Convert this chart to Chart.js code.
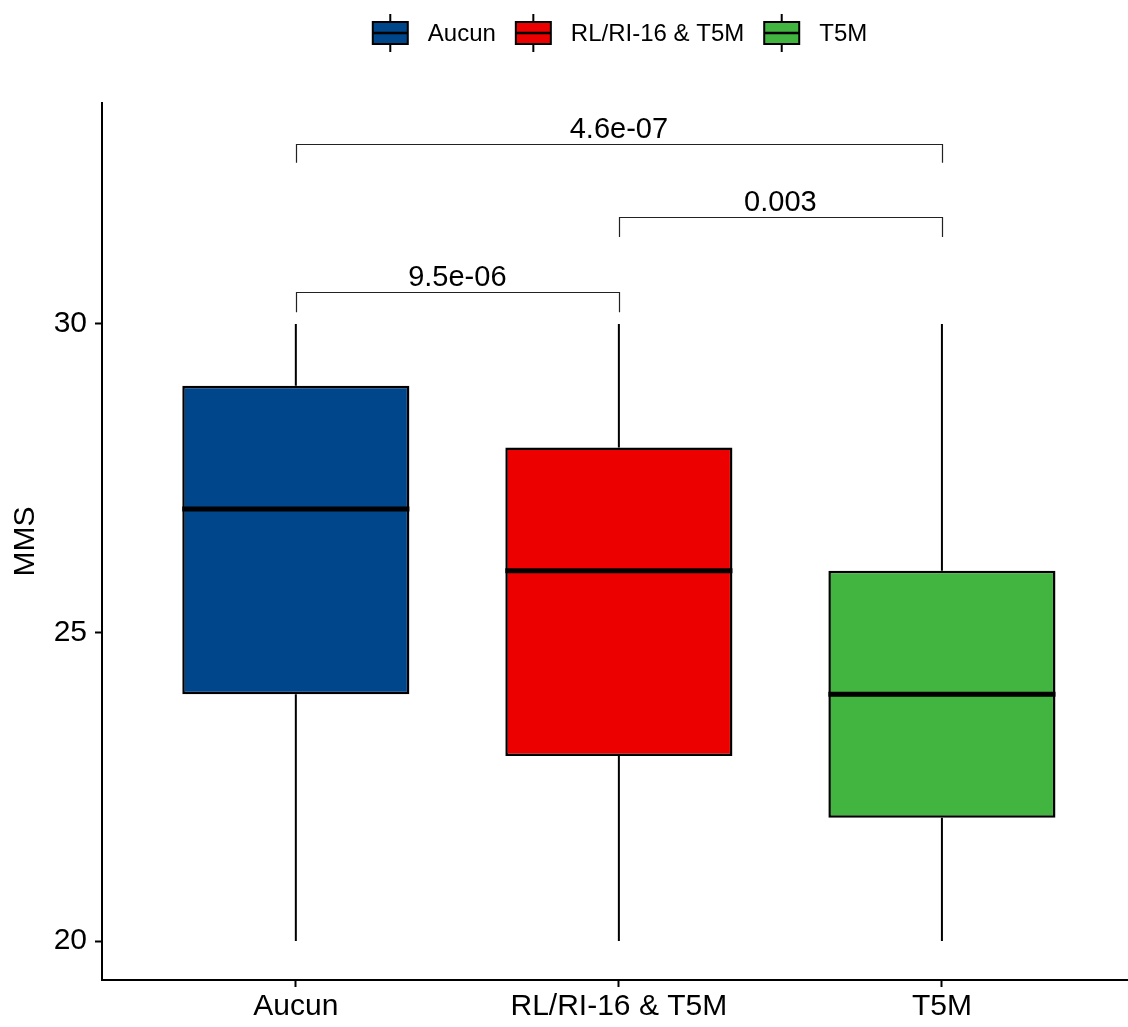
<!DOCTYPE html>
<html>
<head>
<meta charset="utf-8">
<script src="https://cdn.jsdelivr.net/npm/chart.js@4/dist/chart.umd.min.js"></script>
<style>
  html, body { margin: 0; padding: 0; background: #fff; }
  canvas { display: block; }
</style>
</head>
<body>
<canvas id="c" width="1128" height="1027"></canvas>
<script>
// ---- data ----
const categories = ['Aucun', 'RL/RI-16 & T5M', 'T5M'];
const whiskerLow = [20, 20, 20];
const q1 = [24, 23, 22];
const median = [27, 26, 24];
const q3 = [29, 28, 26];
const whiskerHigh = [30, 30, 30];
const fillColors = ['#00468B', '#ED0000', '#42B540'];
const yTicks = [20, 25, 30];
const compareFrom = [0, 1, 0];
const compareTo = [1, 2, 2];
const pLabels = ['9.5e-06', '0.003', '4.6e-07'];
const bracketLevel = [30.52, 31.73, 32.92];
const bracketDrop = [30.19, 31.41, 32.61];

const FONT = '"Liberation Sans", Arial, Helvetica, sans-serif';

const datasets = categories.map((cat, i) => ({
  label: cat,
  data: [{ x: i, y: [q1[i], q3[i]] }],
  backgroundColor: fillColors[i],
  borderColor: '#000',
  borderWidth: 2.5,
  borderSkipped: false,
  grouped: false,
  barPercentage: 0.703,
  categoryPercentage: 1.0
}));

const boxExtras = {
  id: 'boxExtras',
  beforeDatasetsDraw(chart) {
    const ctx = chart.ctx;
    const x = chart.scales.x, y = chart.scales.y;
    ctx.save();
    ctx.strokeStyle = '#000';
    ctx.lineWidth = 2;
    categories.forEach((_, i) => {
      const cx = x.getPixelForValue(i);
      ctx.beginPath();
      ctx.moveTo(cx, y.getPixelForValue(whiskerHigh[i]));
      ctx.lineTo(cx, y.getPixelForValue(q3[i]));
      ctx.moveTo(cx, y.getPixelForValue(q1[i]));
      ctx.lineTo(cx, y.getPixelForValue(whiskerLow[i]));
      ctx.stroke();
    });
    ctx.restore();
  },
  afterDatasetsDraw(chart) {
    const ctx = chart.ctx;
    const y = chart.scales.y;
    ctx.save();
    ctx.strokeStyle = '#000';
    ctx.lineWidth = 5;
    categories.forEach((_, i) => {
      const el = chart.getDatasetMeta(i).data[0];
      const my = y.getPixelForValue(median[i]);
      ctx.beginPath();
      ctx.moveTo(el.x - el.width / 2, my);
      ctx.lineTo(el.x + el.width / 2, my);
      ctx.stroke();
    });
    ctx.restore();
  },
  afterDraw(chart) {
    const ctx = chart.ctx;
    const x = chart.scales.x, y = chart.scales.y;
    ctx.save();
    // significance brackets
    ctx.strokeStyle = '#222';
    ctx.lineWidth = 1.2;
    ctx.fillStyle = '#000';
    ctx.font = '29px ' + FONT;
    ctx.textAlign = 'center';
    ctx.textBaseline = 'alphabetic';
    pLabels.forEach((lab, k) => {
      const x1 = x.getPixelForValue(compareFrom[k]);
      const x2 = x.getPixelForValue(compareTo[k]);
      const yl = Math.round(y.getPixelForValue(bracketLevel[k])) + 0.5;
      const yd = y.getPixelForValue(bracketDrop[k]);
      ctx.beginPath();
      ctx.moveTo(Math.round(x1) + 0.5, yd);
      ctx.lineTo(Math.round(x1) + 0.5, yl);
      ctx.lineTo(Math.round(x2) + 0.5, yl);
      ctx.lineTo(Math.round(x2) + 0.5, yd);
      ctx.stroke();
      ctx.fillText(lab, (x1 + x2) / 2, yl - 7);
    });

    // legend
    ctx.font = '24px ' + FONT;
    const iconW = 35, gapIcon = 20, gapItem = 20;
    const widths = categories.map(c => ctx.measureText(c).width);
    let total = 0;
    widths.forEach((w, i) => { total += iconW + gapIcon + w + (i < widths.length - 1 ? gapItem : 0); });
    let lx = 620 - total / 2;
    const cy = 33;
    categories.forEach((c, i) => {
      const mid = lx + iconW / 2;
      ctx.strokeStyle = '#000';
      ctx.lineWidth = 2;
      ctx.beginPath();
      ctx.moveTo(mid, cy - 19);
      ctx.lineTo(mid, cy + 19);
      ctx.stroke();
      ctx.fillStyle = fillColors[i];
      ctx.fillRect(lx, cy - 11, iconW, 22);
      ctx.strokeRect(lx, cy - 11, iconW, 22);
      ctx.lineWidth = 2.5;
      ctx.beginPath();
      ctx.moveTo(lx, cy);
      ctx.lineTo(lx + iconW, cy);
      ctx.stroke();
      ctx.fillStyle = '#000';
      ctx.textAlign = 'left';
      ctx.textBaseline = 'middle';
      ctx.fillText(c, lx + iconW + gapIcon, cy + 1);
      lx += iconW + gapIcon + widths[i] + gapItem;
    });
    ctx.restore();
  }
};

new Chart(document.getElementById('c'), {
  type: 'bar',
  data: { datasets },
  options: {
    responsive: false,
    devicePixelRatio: 1,
    animation: false,
    events: [],
    layout: { padding: { top: 103, left: 0, right: 0, bottom: 0 } },
    plugins: { legend: { display: false }, tooltip: { enabled: false } },
    scales: {
      x: {
        type: 'linear',
        min: -0.6,
        max: 2.576,
        offset: false,
        afterBuildTicks(s) { s.ticks = categories.map((_, i) => ({ value: i })); },
        grid: { display: true, offset: false, drawOnChartArea: false, drawTicks: true, tickLength: 7, tickWidth: 2, tickColor: '#000' },
        border: { display: true, color: '#000', width: 2 },
        ticks: { color: '#000', font: { family: FONT, size: 30 }, padding: 2, maxRotation: 0, autoSkip: false,
                 callback: (v) => categories[v] },
        afterFit(s) { s.height = 47; }
      },
      y: {
        min: 19.37,
        max: 33.58,
        afterBuildTicks(s) { s.ticks = yTicks.map(v => ({ value: v })); },
        grid: { display: true, drawOnChartArea: false, drawTicks: true, tickLength: 7, tickWidth: 2, tickColor: '#000' },
        border: { display: true, color: '#000', width: 2 },
        ticks: { color: '#000', font: { family: FONT, size: 30 }, padding: 8 },
        title: { display: true, text: 'MMS', color: '#000', font: { family: FONT, size: 30 }, padding: { top: 8, bottom: 0 } },
        afterFit(s) { s.width = 102; }
      }
    }
  },
  plugins: [boxExtras]
});
</script>
</body>
</html>
